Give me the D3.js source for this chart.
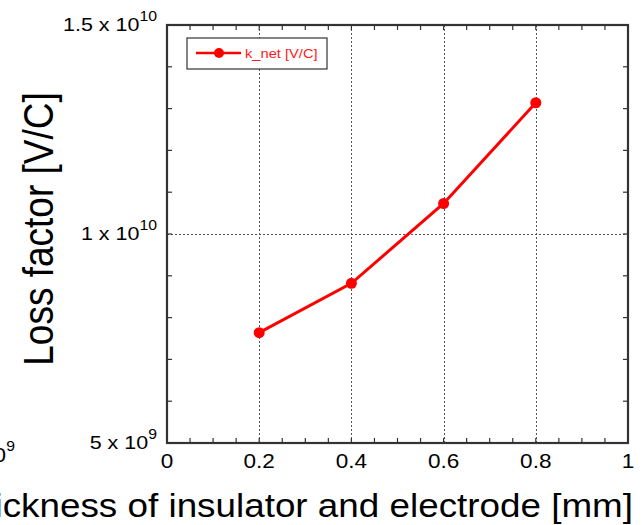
<!DOCTYPE html>
<html>
<head>
<meta charset="utf-8">
<script src="https://cdn.jsdelivr.net/npm/d3@7"></script>
<style>
  body { margin: 0; background: #fff; }
  svg { display: block; font-family: "Liberation Sans", Arial, sans-serif; }
</style>
</head>
<body>
<svg id="chart" width="642" height="525"></svg>
<script>
// data
const thickness = [0.2, 0.4, 0.6, 0.8];
const kNet = [7.64e9, 8.82e9, 1.073e10, 1.314e10];
const seriesName = "k_net [V/C]";

const xTickValues = [0, 0.2, 0.4, 0.6, 0.8, 1];
const xTickLabels = ["0", "0.2", "0.4", "0.6", "0.8", "1"];
const yTickValues = [5e9, 1e10, 1.5e10];
const yTickLabels = [["5", "9"], ["1", "10"], ["1.5", "10"]]; // mantissa, exponent

const width = 642;
const height = 525;
const marginLeft = 167;
const marginRight = 14;
const marginTop = 25;
const marginBottom = 82;
const stretch = 1.13; // the source picture is a little wider than tall

const svg = d3.select("#chart");

const x = d3.scaleLinear()
    .domain([0, 1])
    .range([marginLeft, width - marginRight]);
const y = d3.scaleLinear()
    .domain([5e9, 1.5e10])
    .range([height - marginBottom, marginTop]);

const x0 = x.range()[0], x1 = x.range()[1];
const y0 = y.range()[0], y1 = y.range()[1];

// dotted grid at the major ticks
const grid = svg.append("g")
    .attr("stroke", "#555")
    .attr("stroke-width", 1)
    .attr("stroke-dasharray", "2,2");
grid.selectAll("line.gx")
    .data(xTickValues.slice(1, -1))
    .join("line")
    .attr("class", "gx")
    .attr("x1", d => Math.round(x(d)) + 0.5).attr("x2", d => Math.round(x(d)) + 0.5)
    .attr("y1", y1).attr("y2", y0);
grid.selectAll("line.gy")
    .data(yTickValues.slice(1, -1))
    .join("line")
    .attr("class", "gy")
    .attr("x1", x0).attr("x2", x1)
    .attr("y1", d => Math.round(y(d)) + 0.5).attr("y2", d => Math.round(y(d)) + 0.5);

// inward ticks on all four sides
const tickLen = 5;
const ticks = svg.append("g").attr("stroke", "#333").attr("stroke-width", 1.2);
const xMinor = d3.range(0, 1.0001, 0.05);
const yMinor = d3.range(5e9, 1.5e10 + 1, 1e9);
ticks.selectAll("line.bx").data(xMinor).join("line")
    .attr("x1", d => x(d)).attr("x2", d => x(d))
    .attr("y1", y0).attr("y2", y0 - tickLen);
ticks.selectAll("line.tx").data(xMinor).join("line")
    .attr("x1", d => x(d)).attr("x2", d => x(d))
    .attr("y1", y1).attr("y2", y1 + tickLen);
ticks.selectAll("line.ly").data(yMinor).join("line")
    .attr("x1", x0).attr("x2", x0 + tickLen)
    .attr("y1", d => y(d)).attr("y2", d => y(d));
ticks.selectAll("line.ry").data(yMinor).join("line")
    .attr("x1", x1).attr("x2", x1 - tickLen)
    .attr("y1", d => y(d)).attr("y2", d => y(d));

// frame
svg.append("rect")
    .attr("x", x0).attr("y", y1)
    .attr("width", x1 - x0).attr("height", y0 - y1)
    .attr("fill", "none")
    .attr("stroke", "#333")
    .attr("stroke-width", 2.2);

// x tick labels
svg.append("g")
    .selectAll("text")
    .data(xTickValues)
    .join("text")
    .attr("transform", d => `translate(${x(d)},${y0 + 25}) scale(${stretch},1)`)
    .attr("text-anchor", "middle")
    .attr("font-size", 20)
    .text((d, i) => xTickLabels[i]);

// y tick labels, "a x 10^b"
const yl = svg.append("g")
    .selectAll("text")
    .data(yTickValues)
    .join("text")
    .attr("transform", d => `translate(${x0 - 10},${y(d) + 5.5}) scale(${stretch},1)`)
    .attr("text-anchor", "end")
    .attr("font-size", 19);
yl.append("tspan").text((d, i) => yTickLabels[i][0] + " x 10");
yl.append("tspan")
    .attr("dy", -10)
    .attr("font-size", 14)
    .text((d, i) => yTickLabels[i][1]);

// leftover of a neighbouring label at the lower-left edge
const stray = svg.append("text")
    .attr("transform", `translate(15,462) scale(${stretch},1)`)
    .attr("text-anchor", "end")
    .attr("font-size", 20);
stray.append("tspan").text("5 x 10");
stray.append("tspan").attr("dy", -11).attr("font-size", 14).text("9");

// axis titles
svg.append("text")
    .attr("transform", `translate(53,229) scale(${stretch},1) rotate(-90)`)
    .attr("text-anchor", "middle")
    .attr("font-size", 37)
    .text("Loss factor [V/C]");
svg.append("text")
    .attr("transform", `translate(633,517) scale(${stretch},1)`)
    .attr("text-anchor", "end")
    .attr("font-size", 32.6)
    .text("Thickness of insulator and electrode [mm]");

// series
const pts = thickness.map((t, i) => [t, kNet[i]]);
svg.append("path")
    .datum(pts)
    .attr("fill", "none")
    .attr("stroke", "#ff0000")
    .attr("stroke-width", 3)
    .attr("d", d3.line().x(d => x(d[0])).y(d => y(d[1])));
svg.append("g")
    .attr("fill", "#ff0000")
    .selectAll("circle")
    .data(pts)
    .join("circle")
    .attr("cx", d => x(d[0]))
    .attr("cy", d => y(d[1]))
    .attr("r", 5.5);

// legend
const legend = svg.append("g").attr("transform", "translate(187,38)");
legend.append("rect")
    .attr("width", 140).attr("height", 31)
    .attr("fill", "#fff")
    .attr("stroke", "#333")
    .attr("stroke-width", 1.2);
legend.append("line")
    .attr("x1", 9).attr("x2", 54)
    .attr("y1", 15).attr("y2", 15)
    .attr("stroke", "#ff0000").attr("stroke-width", 2.5);
legend.append("circle")
    .attr("cx", 32).attr("cy", 15).attr("r", 5)
    .attr("fill", "#ff0000");
legend.append("text")
    .attr("transform", `translate(58,20) scale(${stretch},1)`)
    .attr("font-size", 13)
    .attr("fill", "#ff1a1a")
    .text(seriesName);
</script>
</body>
</html>
